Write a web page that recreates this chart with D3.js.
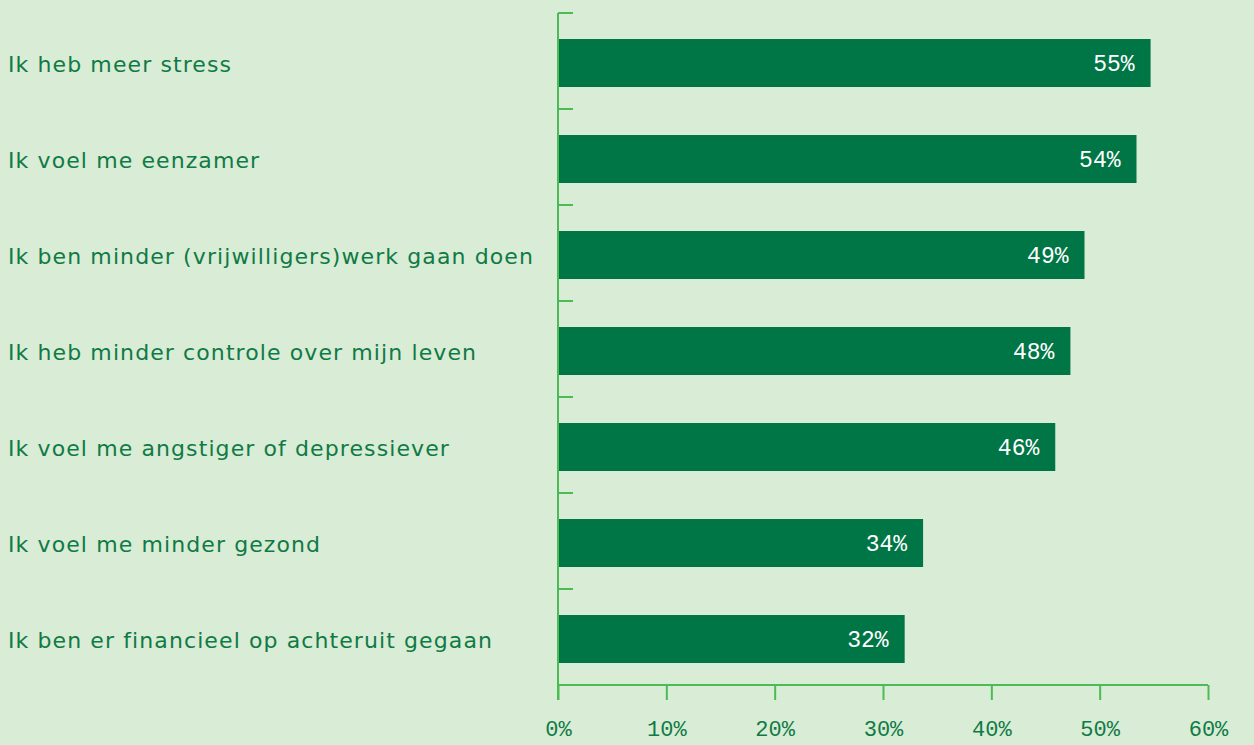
<!DOCTYPE html>
<html>
<head>
<meta charset="utf-8">
<script src="https://cdn.jsdelivr.net/npm/d3@7"></script>
<style>
  body { margin: 0; background: #d9ecd5; }
</style>
</head>
<body>
<div class="canvas"></div>
<script>
const categories = [
    'Ik heb meer stress',
    'Ik voel me eenzamer',
    'Ik ben minder (vrijwilligers)werk gaan doen',
    'Ik heb minder controle over mijn leven',
    'Ik voel me angstiger of depressiever',
    'Ik voel me minder gezond',
    'Ik ben er financieel op achteruit gegaan'
];
const values = [54.7, 53.4, 48.6, 47.3, 45.9, 33.7, 32.0];
const valueLabels = ['55%', '54%', '49%', '48%', '46%', '34%', '32%'];
const xTicks = [0, 10, 20, 30, 40, 50, 60];

const dims = {width: 1254, height: 745};
const plot = {left: 558, right: 1208, top: 13, bottom: 685};

const axisColour = '#4cbb55';
const textColour = '#0f7a46';

const svg = d3.select('.canvas')
    .append('svg')
    .attr('width', dims.width)
    .attr('height', dims.height)
    .style('display', 'block');

svg.append('rect')
    .attr('width', dims.width)
    .attr('height', dims.height)
    .attr('fill', '#d9ecd5');

const x = d3.scaleLinear()
    .domain([0, 60])
    .range([plot.left, plot.right]);

//bars sit a couple px below the band centre in the original
const y = d3.scaleBand()
    .domain(categories)
    .range([plot.top + 2, plot.bottom + 2])
    .paddingInner(0.5)
    .paddingOuter(0.25);

//bars
svg.append('g')
    .selectAll('rect')
    .data(values)
    .join('rect')
        .attr('x', x(0))
        .attr('y', (d, i) => y(categories[i]))
        .attr('width', d => x(d) - x(0))
        .attr('height', y.bandwidth())
        .attr('fill', '#007545');

//value labels inside bars
svg.append('g')
    .selectAll('text')
    .data(values)
    .join('text')
        .attr('x', d => x(d) - 16)
        .attr('y', (d, i) => y(categories[i]) + y.bandwidth() / 2)
        .attr('dy', '0.35em')
        .attr('text-anchor', 'end')
        .attr('fill', '#ffffff')
        .style('font-family', '"Liberation Mono", monospace')
        .style('font-size', '23px')
        .text((d, i) => valueLabels[i]);

//category labels
svg.append('g')
    .selectAll('text')
    .data(categories)
    .join('text')
        .attr('x', 8)
        .attr('y', d => y(d) + y.bandwidth() / 2 + 1)
        .attr('dy', '0.35em')
        .attr('fill', textColour)
        .style('font-family', '"DejaVu Sans", sans-serif')
        .style('font-size', '22px')
        .style('letter-spacing', '1.1px')
        .text(d => d);

//y axis line with ticks at band boundaries
const step = y.step();
const boundaries = d3.range(categories.length).map(i => plot.top + i * step);

const yAxis = svg.append('g');
yAxis.append('line')
    .attr('x1', plot.left).attr('x2', plot.left)
    .attr('y1', plot.top).attr('y2', plot.bottom + 15)
    .attr('stroke', axisColour)
    .attr('stroke-width', 2);
yAxis.selectAll('line.tick')
    .data(boundaries)
    .join('line')
        .attr('class', 'tick')
        .attr('x1', plot.left).attr('x2', plot.left + 15)
        .attr('y1', d => d).attr('y2', d => d)
        .attr('stroke', axisColour)
        .attr('stroke-width', 2);

//x axis
const xAxis = svg.append('g')
    .attr('transform', `translate(0, ${plot.bottom})`)
    .call(d3.axisBottom(x)
        .tickValues(xTicks)
        .tickSize(15)
        .tickPadding(20)
        .tickFormat(d => d + '%'));

xAxis.select('.domain')
    .attr('stroke', axisColour)
    .attr('stroke-width', 2)
    .attr('d', `M${plot.left},0H${plot.right}`);
xAxis.selectAll('.tick line')
    .attr('stroke', axisColour)
    .attr('stroke-width', 2);
xAxis.selectAll('.tick text')
    .attr('fill', textColour)
    .style('font-family', '"Liberation Mono", monospace')
    .style('font-size', '22px');
</script>
</body>
</html>
